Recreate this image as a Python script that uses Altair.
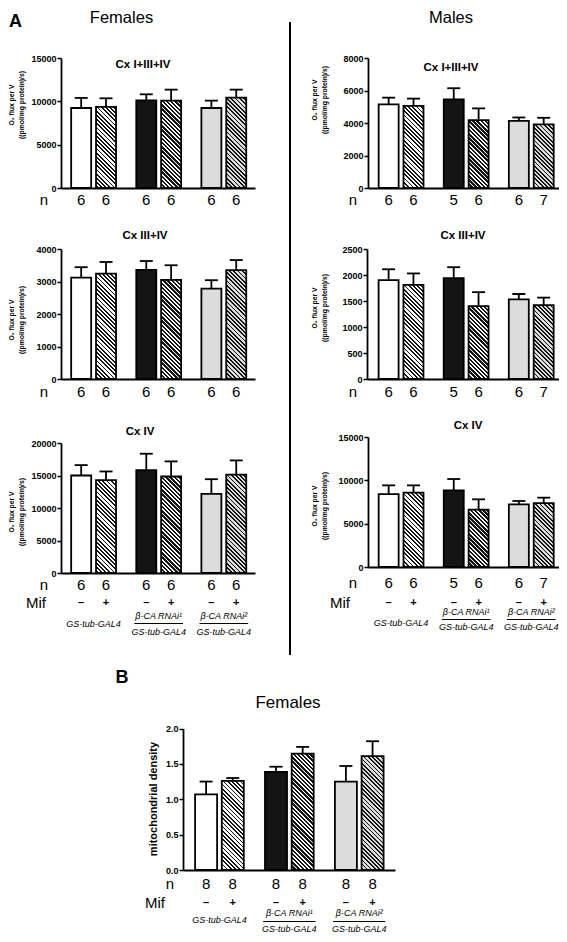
import altair as alt

FONT = "Liberation Sans"
M = 8                      # page margin
W_CANVAS, H_CANVAS = 551, 926
GAP = 2.62                 # distance between genotype groups, in bar units
UL = 0.98                  # half length of the genotype underline, in bar units

# ---------------- data ----------------
genotypes = ["GS-tub-GAL4", "β-CA RNAi¹", "β-CA RNAi²"]
driver = "GS-tub-GAL4"
mif_signs = ["–", "+"]
bar_fill = ["#ffffff", "#141414", "#dcdcdc"]
hatch_ink = ["#141414", "#ffffff", "#141414"]

f_cx1_mean = [9230, 9350, 10120, 10080, 9230, 10420]
f_cx1_sem = [1160, 1000, 690, 1270, 850, 930]
f_cx34_mean = [3120, 3240, 3360, 3050, 2780, 3350]
f_cx34_sem = [320, 360, 270, 450, 260, 310]
f_cx4_mean = [15000, 14280, 15830, 14850, 12170, 15150]
f_cx4_sem = [1600, 1340, 2520, 2320, 2260, 2170]
f_n = [6, 6, 6, 6, 6, 6]

m_cx1_mean = [5150, 5060, 5460, 4180, 4130, 3910]
m_cx1_sem = [410, 440, 680, 720, 210, 410]
m_cx34_mean = [1900, 1810, 1940, 1400, 1530, 1420]
m_cx34_sem = [210, 220, 210, 270, 105, 145]
m_cx4_mean = [8420, 8580, 8850, 6620, 7230, 7380]
m_cx4_sem = [1000, 840, 1300, 1190, 390, 620]
m_n = [6, 6, 5, 6, 6, 7]

b_mean = [1.07, 1.26, 1.385, 1.645, 1.25, 1.61]
b_sem = [0.18, 0.04, 0.075, 0.095, 0.22, 0.21]
b_n = [8, 8, 8, 8, 8, 8]

ticks_f_cx1 = [0, 5000, 10000, 15000]
ticks_f_cx34 = [0, 1000, 2000, 3000, 4000]
ticks_f_cx4 = [0, 5000, 10000, 15000, 20000]
ticks_m_cx1 = [0, 2000, 4000, 6000, 8000]
ticks_m_cx34 = [0, 500, 1000, 1500, 2000, 2500]
ticks_m_cx4 = [0, 5000, 10000, 15000]
ticks_b = [0.0, 0.5, 1.0, 1.5, 2.0]

o2_title = ["O₂ flux per V", "((pmol/mg protein)/s)"]
b_title = ["mitochondrial density"]


# ---------------- helpers ----------------
def hatch(bg, ink, w, h, period=4.2, frac=0.42):
    """Diagonal stripes as a linear gradient (bounding-box units)."""
    L = w + h
    k = L / (w * w + h * h)
    n = L / period
    stops = []
    i = 0
    while i < n:
        a = i / n
        b = (i + 0.5 - frac / 2) / n
        c = (i + 0.5 + frac / 2) / n
        d = (i + 1) / n
        for off, col in ((a, bg), (b, bg), (b, ink), (c, ink), (c, bg), (d, bg)):
            stops.append({"offset": round(min(off, 1.0), 5), "color": col})
        i += 1
    return {"gradient": "linear", "x1": 0, "y1": 1,
            "x2": round(k * w, 6), "y2": round(1 - k * h, 6), "stops": stops}


def txt(s, x, y, size, weight="normal", style="normal", align="center", baseline="middle", angle=0):
    return alt.Chart(alt.Data(values=[{"t": s}])).mark_text(
        font=FONT, fontSize=size, fontWeight=weight, fontStyle=style,
        align=align, baseline=baseline, angle=angle, color="black"
    ).encode(x=alt.value(x - M), y=alt.value(y - M), text="t:N")


def panel(p):
    xl = p["xl"] - M
    y0 = p["y0"] - M
    span, c0, unit, bw, ph = p["span"], p["c0"], p["unit"], p["bw"], p["ph"]
    ymax = p["ticks"][-1]
    xs = alt.Scale(domain=[-c0 / unit, (span - c0) / unit], range=[xl, xl + span], nice=False, zero=False)
    ys = alt.Scale(domain=[0, ymax], range=[y0, y0 - ph], nice=False, zero=False)

    rows = []
    for i, (mu, se, nn) in enumerate(zip(p["mean"], p["sem"], p["n"])):
        g, s = divmod(i, 2)
        fill = bar_fill[g] if s == 0 else hatch(bar_fill[g], hatch_ink[g], bw, mu / ymax * ph)
        rows.append({"pos": g * GAP + s, "mean": mu, "upper": mu + se,
                     "n": str(nn), "sign": mif_signs[s], "fill": fill})
    base = alt.Chart(alt.Data(values=rows))

    xaxis = alt.Axis(orient="bottom", offset=y0 - H_CANVAS, ticks=False, labels=False, grid=False,
                     title=None, domainColor="black", domainWidth=1.8)
    yaxis = alt.Axis(orient="left", offset=-xl, values=p["ticks"], format=p["fmt"], grid=False,
                     domainColor="black", domainWidth=1.8, tickColor="black", tickWidth=1.5, tickSize=4,
                     labelFont=FONT, labelFontSize=9, labelFontWeight="bold", labelColor="black",
                     labelPadding=1, labelOverlap=False, labelFlush=False, title=None)
    xplain = alt.X("pos:Q", scale=xs)

    layers = [
        base.mark_bar(orient="vertical", width=bw, stroke="black", strokeWidth=1.8).encode(
            x=alt.X("pos:Q", scale=xs, axis=xaxis),
            y=alt.Y("mean:Q", scale=ys, axis=yaxis),
            fill=alt.Fill("fill:N", scale=None)),
        base.mark_rule(color="black", strokeWidth=1.8).encode(
            x=xplain, y=alt.Y("mean:Q", scale=ys), y2="upper:Q"),
        base.mark_tick(orient="horizontal", size=13, thickness=1.8, color="black", opacity=1).encode(
            x=xplain, y=alt.Y("upper:Q", scale=ys)),
        base.mark_text(font=FONT, fontSize=15, baseline="middle", color="black").encode(
            x=xplain, y=alt.value(p["n_y"] - M), text="n:N"),
        txt("n", p["n_x"], p["n_y"], 15),
    ]
    # y-axis title lines (rotated)
    for line, lx in zip(p["ytitle"], p["ytitle_x"]):
        layers.append(txt(line, lx, p["ytitle_y"], p["ytitle_size"], "bold", angle=270))
    if p.get("title"):
        layers.append(txt(p["title"], p["title_xy"][0], p["title_xy"][1], 11.5, "bold"))
    if p.get("mif_y"):
        layers.append(base.mark_text(font=FONT, fontSize=11, fontWeight="bold", baseline="middle",
                                     color="black").encode(
            x=xplain, y=alt.value(p["mif_y"] - M), text="sign:N"))
        layers.append(txt("Mif", p["mif_x"], p["mif_y"], 15))
        gs1, beta, line, gs2 = p["geno_y"]
        grows = [{"g": g, "gpos": g * GAP + 0.5, "lo": g * GAP + 0.5 - UL, "hi": g * GAP + 0.5 + UL,
                  "label": genotypes[g]} for g in range(3)]
        gb = alt.Chart(alt.Data(values=grows))
        gx = alt.X("gpos:Q", scale=xs)
        gstyle = dict(font=FONT, fontSize=9, fontStyle="italic", baseline="middle", color="black")
        layers += [
            gb.transform_filter("datum.g == 0").mark_text(**gstyle).encode(
                x=gx, y=alt.value(gs1 - M), text="label:N"),
            gb.transform_filter("datum.g > 0").mark_text(**gstyle).encode(
                x=gx, y=alt.value(beta - M), text="label:N"),
            gb.transform_filter("datum.g > 0").mark_rule(color="black", strokeWidth=1.2).encode(
                x=alt.X("lo:Q", scale=xs), x2="hi:Q", y=alt.value(line - M)),
            gb.transform_filter("datum.g > 0").mark_text(**gstyle).encode(
                x=gx, y=alt.value(gs2 - M), text=alt.value(driver)),
        ]
    return alt.layer(*layers)


FEM = dict(xl=61, span=194, c0=16, unit=26.2, bw=20, ph=130, fmt="d", ytitle=o2_title,
           ytitle_size=6.8, ytitle_x=(12, 21.5), n_x=44)
MAL = dict(xl=368, span=194, c0=16.5, unit=26.2, bw=20, ph=130, fmt="d", ytitle=o2_title,
           ytitle_size=6.8, ytitle_x=(315, 325), n_x=353)

panels = [
    dict(FEM, mean=f_cx1_mean, sem=f_cx1_sem, n=f_n, ticks=ticks_f_cx1, y0=188,
         title="Cx I+III+IV", title_xy=(143, 65), ytitle_y=105, n_y=200),
    dict(FEM, mean=f_cx34_mean, sem=f_cx34_sem, n=f_n, ticks=ticks_f_cx34, y0=379,
         title="Cx III+IV", title_xy=(145, 235.5), ytitle_y=320, n_y=392),
    dict(FEM, mean=f_cx4_mean, sem=f_cx4_sem, n=f_n, ticks=ticks_f_cx4, y0=573,
         title="Cx IV", title_xy=(140, 431.5), ytitle_y=512, n_y=585,
         mif_y=603, mif_x=36, geno_y=(624, 616, 623.5, 631.5)),
    dict(MAL, mean=m_cx1_mean, sem=m_cx1_sem, n=m_n, ticks=ticks_m_cx1, y0=188,
         title="Cx I+III+IV", title_xy=(451, 67.5), ytitle_y=100, n_y=200),
    dict(MAL, xl=367, c0=17.5, mean=m_cx34_mean, sem=m_cx34_sem, n=m_n, ticks=ticks_m_cx34, y0=379,
         title="Cx III+IV", title_xy=(463, 236), ytitle_y=308, n_y=392),
    dict(MAL, mean=m_cx4_mean, sem=m_cx4_sem, n=m_n, ticks=ticks_m_cx4, y0=567,
         title="Cx IV", title_xy=(468, 425.5), ytitle_y=506, n_y=583,
         mif_y=603, mif_x=340, geno_y=(623, 612, 619.5, 627)),
    dict(xl=183, span=212, c0=19, unit=28, bw=22, ph=141.5, fmt=".1f", ytitle=b_title, ytitle_size=11,
         ytitle_x=(154,), ytitle_y=799,
         mean=b_mean, sem=b_sem, n=b_n, ticks=ticks_b, y0=870,
         n_y=884, n_x=170, mif_y=903, mif_x=155, geno_y=(920, 913, 921.5, 928.5)),
]

decor = [
    txt("A", 9, 26.5, 18, "bold", align="left", baseline="alphabetic"),
    txt("Females", 121.5, 23, 16.5, baseline="alphabetic"),
    txt("Males", 451, 23, 16.5, baseline="alphabetic"),
    txt("B", 122, 682.7, 18, "bold", baseline="alphabetic"),
    txt("Females", 288, 708.3, 17, baseline="alphabetic"),
    alt.Chart(alt.Data(values=[{}])).mark_rule(color="black", strokeWidth=2).encode(
        x=alt.value(290 - M), y=alt.value(22 - M), y2=alt.value(655 - M)),
]

chart = alt.layer(*[panel(p) for p in panels], *decor).resolve_scale(
    x="independent", y="independent"
).properties(
    width=W_CANVAS, height=H_CANVAS, autosize=alt.AutoSizeParams(type="none"), padding=0
).configure_view(strokeWidth=0)

chart.save("out.html", embed_options={"renderer": "svg", "actions": False})
